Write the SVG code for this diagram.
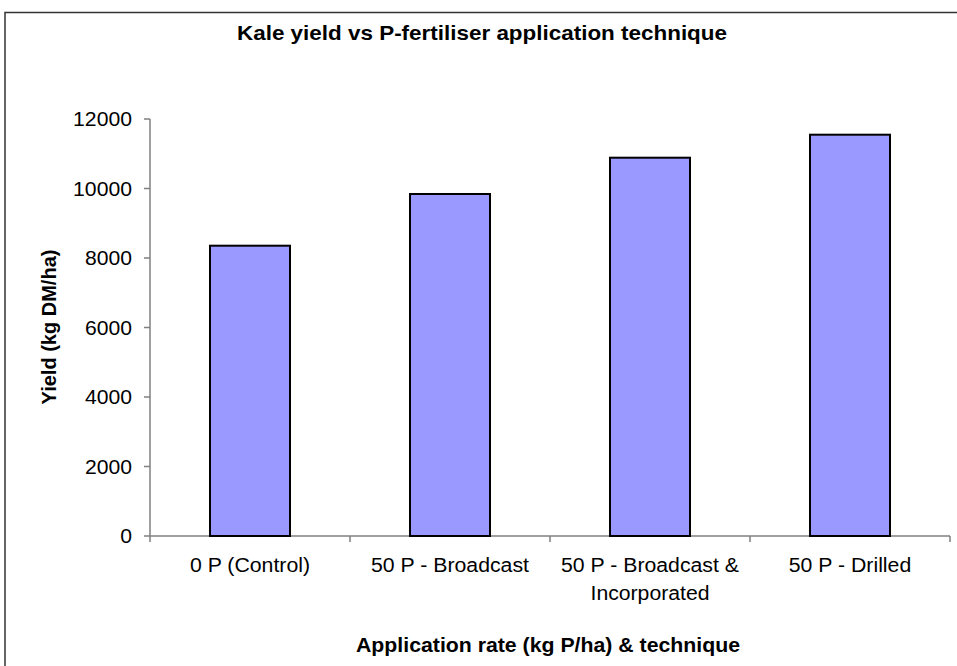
<svg xmlns="http://www.w3.org/2000/svg" width="957" height="666" viewBox="0 0 957 666">
<style>
.bg{fill:#fff}
.frame{fill:none;stroke:#333;stroke-width:1.5}
.axis{stroke:#808080;stroke-width:1.5;fill:none}
.bar{fill:#9999FF;stroke:#000;stroke-width:2}
.lbl{font-family:"Liberation Sans",Arial,sans-serif;font-size:19.5px;fill:#000}
.bold{font-family:"Liberation Sans",Arial,sans-serif;font-weight:bold;fill:#000}
</style>
<rect class="bg" x="0" y="0" width="957" height="666"/>
<rect class="frame" x="5" y="12.5" width="960" height="670"/>
<text id="title" class="bold" x="482" y="40" font-size="21" text-anchor="middle" textLength="490" lengthAdjust="spacingAndGlyphs">Kale yield vs P-fertiliser application technique</text>
<g id="axes">
<path class="axis" d="M150,119V536H950M144,536H150M144,466.5H150M144,397H150M144,327.5H150M144,258H150M144,188.5H150M144,119H150M150,536V542M350,536V542M550,536V542M750,536V542M950,536V542"/>
</g>
<g id="ytick-labels" text-anchor="end">
<text class="lbl" x="132" y="543" textLength="11.8" lengthAdjust="spacingAndGlyphs">0</text>
<text class="lbl" x="132" y="473.5" textLength="47" lengthAdjust="spacingAndGlyphs">2000</text>
<text class="lbl" x="132" y="404" textLength="47" lengthAdjust="spacingAndGlyphs">4000</text>
<text class="lbl" x="132" y="334.5" textLength="47" lengthAdjust="spacingAndGlyphs">6000</text>
<text class="lbl" x="132" y="265" textLength="47" lengthAdjust="spacingAndGlyphs">8000</text>
<text class="lbl" x="132" y="195.5" textLength="58.9" lengthAdjust="spacingAndGlyphs">10000</text>
<text class="lbl" x="132" y="126" textLength="58.9" lengthAdjust="spacingAndGlyphs">12000</text>
</g>
<g id="bar-control"><rect class="bar" x="210" y="245.7" width="80" height="290.3"/></g>
<g id="bar-broadcast"><rect class="bar" x="410" y="194" width="80" height="342"/></g>
<g id="bar-broadcast-incorporated"><rect class="bar" x="610" y="157.7" width="80" height="378.3"/></g>
<g id="bar-drilled"><rect class="bar" x="810" y="134.7" width="80" height="401.3"/></g>
<g id="xtick-labels" text-anchor="middle">
<text class="lbl" x="250" y="572" textLength="120.2" lengthAdjust="spacingAndGlyphs">0 P (Control)</text>
<text class="lbl" x="450" y="572" textLength="157.9" lengthAdjust="spacingAndGlyphs">50 P - Broadcast</text>
<text class="lbl" x="650" y="572" textLength="177.9" lengthAdjust="spacingAndGlyphs">50 P - Broadcast &amp;</text>
<text class="lbl" x="650" y="600" textLength="119" lengthAdjust="spacingAndGlyphs">Incorporated</text>
<text class="lbl" x="850" y="572" textLength="122.5" lengthAdjust="spacingAndGlyphs">50 P - Drilled</text>
</g>
<text id="x-title" class="bold" x="548" y="652" font-size="20" text-anchor="middle" textLength="384" lengthAdjust="spacingAndGlyphs">Application rate (kg P/ha) &amp; technique</text>
<text id="y-title" class="bold" font-size="20" text-anchor="middle" transform="translate(56,327) rotate(-90)">Yield (kg DM/ha)</text>
</svg>
